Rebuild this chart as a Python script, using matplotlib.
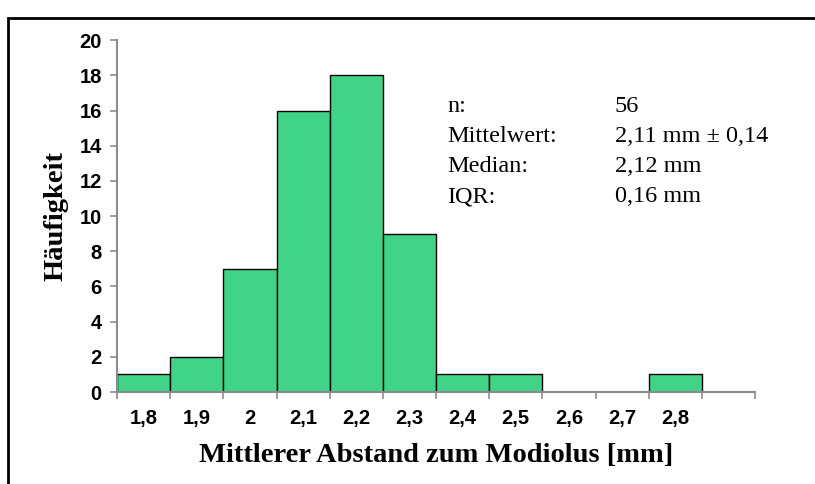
import matplotlib.pyplot as plt
from matplotlib.patches import Rectangle

# Klassen (Mittlerer Abstand zum Modiolus in mm) und Häufigkeiten
klassen = ["1,8", "1,9", "2", "2,1", "2,2", "2,3", "2,4", "2,5", "2,6", "2,7", "2,8", ""]
haeufigkeit = [1, 2, 7, 16, 18, 9, 1, 1, 0, 0, 1, 0]

stat_namen = ["n:", "Mittelwert:", "Median:", "IQR:"]
stat_werte = ["56", "2,11 mm ± 0,14", "2,12 mm", "0,16 mm"]

bar_color = "#41D486"
spine_color = "#8c8c8c"

plt.rcParams["font.family"] = "Liberation Sans"
plt.rcParams["font.weight"] = "bold"

fig = plt.figure(figsize=(8.15, 4.84), dpi=100)
ax = fig.add_axes([0.1436, 0.19, 0.7828, 0.727])

pos = [i + 0.5 for i in range(len(klassen))]
ax.bar(pos, haeufigkeit, width=1.0, color=bar_color, edgecolor="black", linewidth=1.0, zorder=2)

ax.set_xlim(0, len(klassen))
ax.set_ylim(0, 20)
ax.set_yticks(range(0, 21, 2))
ax.set_yticklabels([str(v) for v in range(0, 21, 2)], fontsize=14.5)
ax.set_xticks(range(0, len(klassen) + 1))
ax.set_xticklabels([])
ax.set_xticks(pos, minor=True)
ax.set_xticklabels(klassen, minor=True, fontsize=14.5)
ax.tick_params(axis="x", which="minor", length=0, pad=12)
ax.tick_params(axis="x", which="major", length=5, width=1.2, color=spine_color)
ax.tick_params(axis="y", length=5, width=1.2, color=spine_color, pad=6)

for s in ["top", "right"]:
    ax.spines[s].set_visible(False)
for s in ["left", "bottom"]:
    ax.spines[s].set_color(spine_color)
    ax.spines[s].set_linewidth(1.5)

ax.set_xlabel("Mittlerer Abstand zum Modiolus [mm]", fontfamily="Liberation Serif",
              fontweight="bold", fontsize=20.5, labelpad=11)
ax.set_ylabel("Häufigkeit", fontfamily="Liberation Serif", fontweight="bold",
              fontsize=20.5, labelpad=8)

y0 = 107
for i, (name, wert) in enumerate(zip(stat_namen, stat_werte)):
    yy = 1 - (y0 + i * 30) / 484
    fig.text(447 / 815, yy, name, fontfamily="Liberation Serif", fontweight="normal",
             fontsize=17.5, va="center")
    fig.text(615 / 815, yy, wert, fontfamily="Liberation Serif", fontweight="normal",
             fontsize=17.5, va="center")

# Rahmen um die Grafik
fig.patches.append(Rectangle((8 / 815, -0.1), 1.2, 1 - 18 / 484 + 0.1, transform=fig.transFigure,
                             fill=False, edgecolor="black", linewidth=2))

fig.savefig("out.png", dpi=100)
